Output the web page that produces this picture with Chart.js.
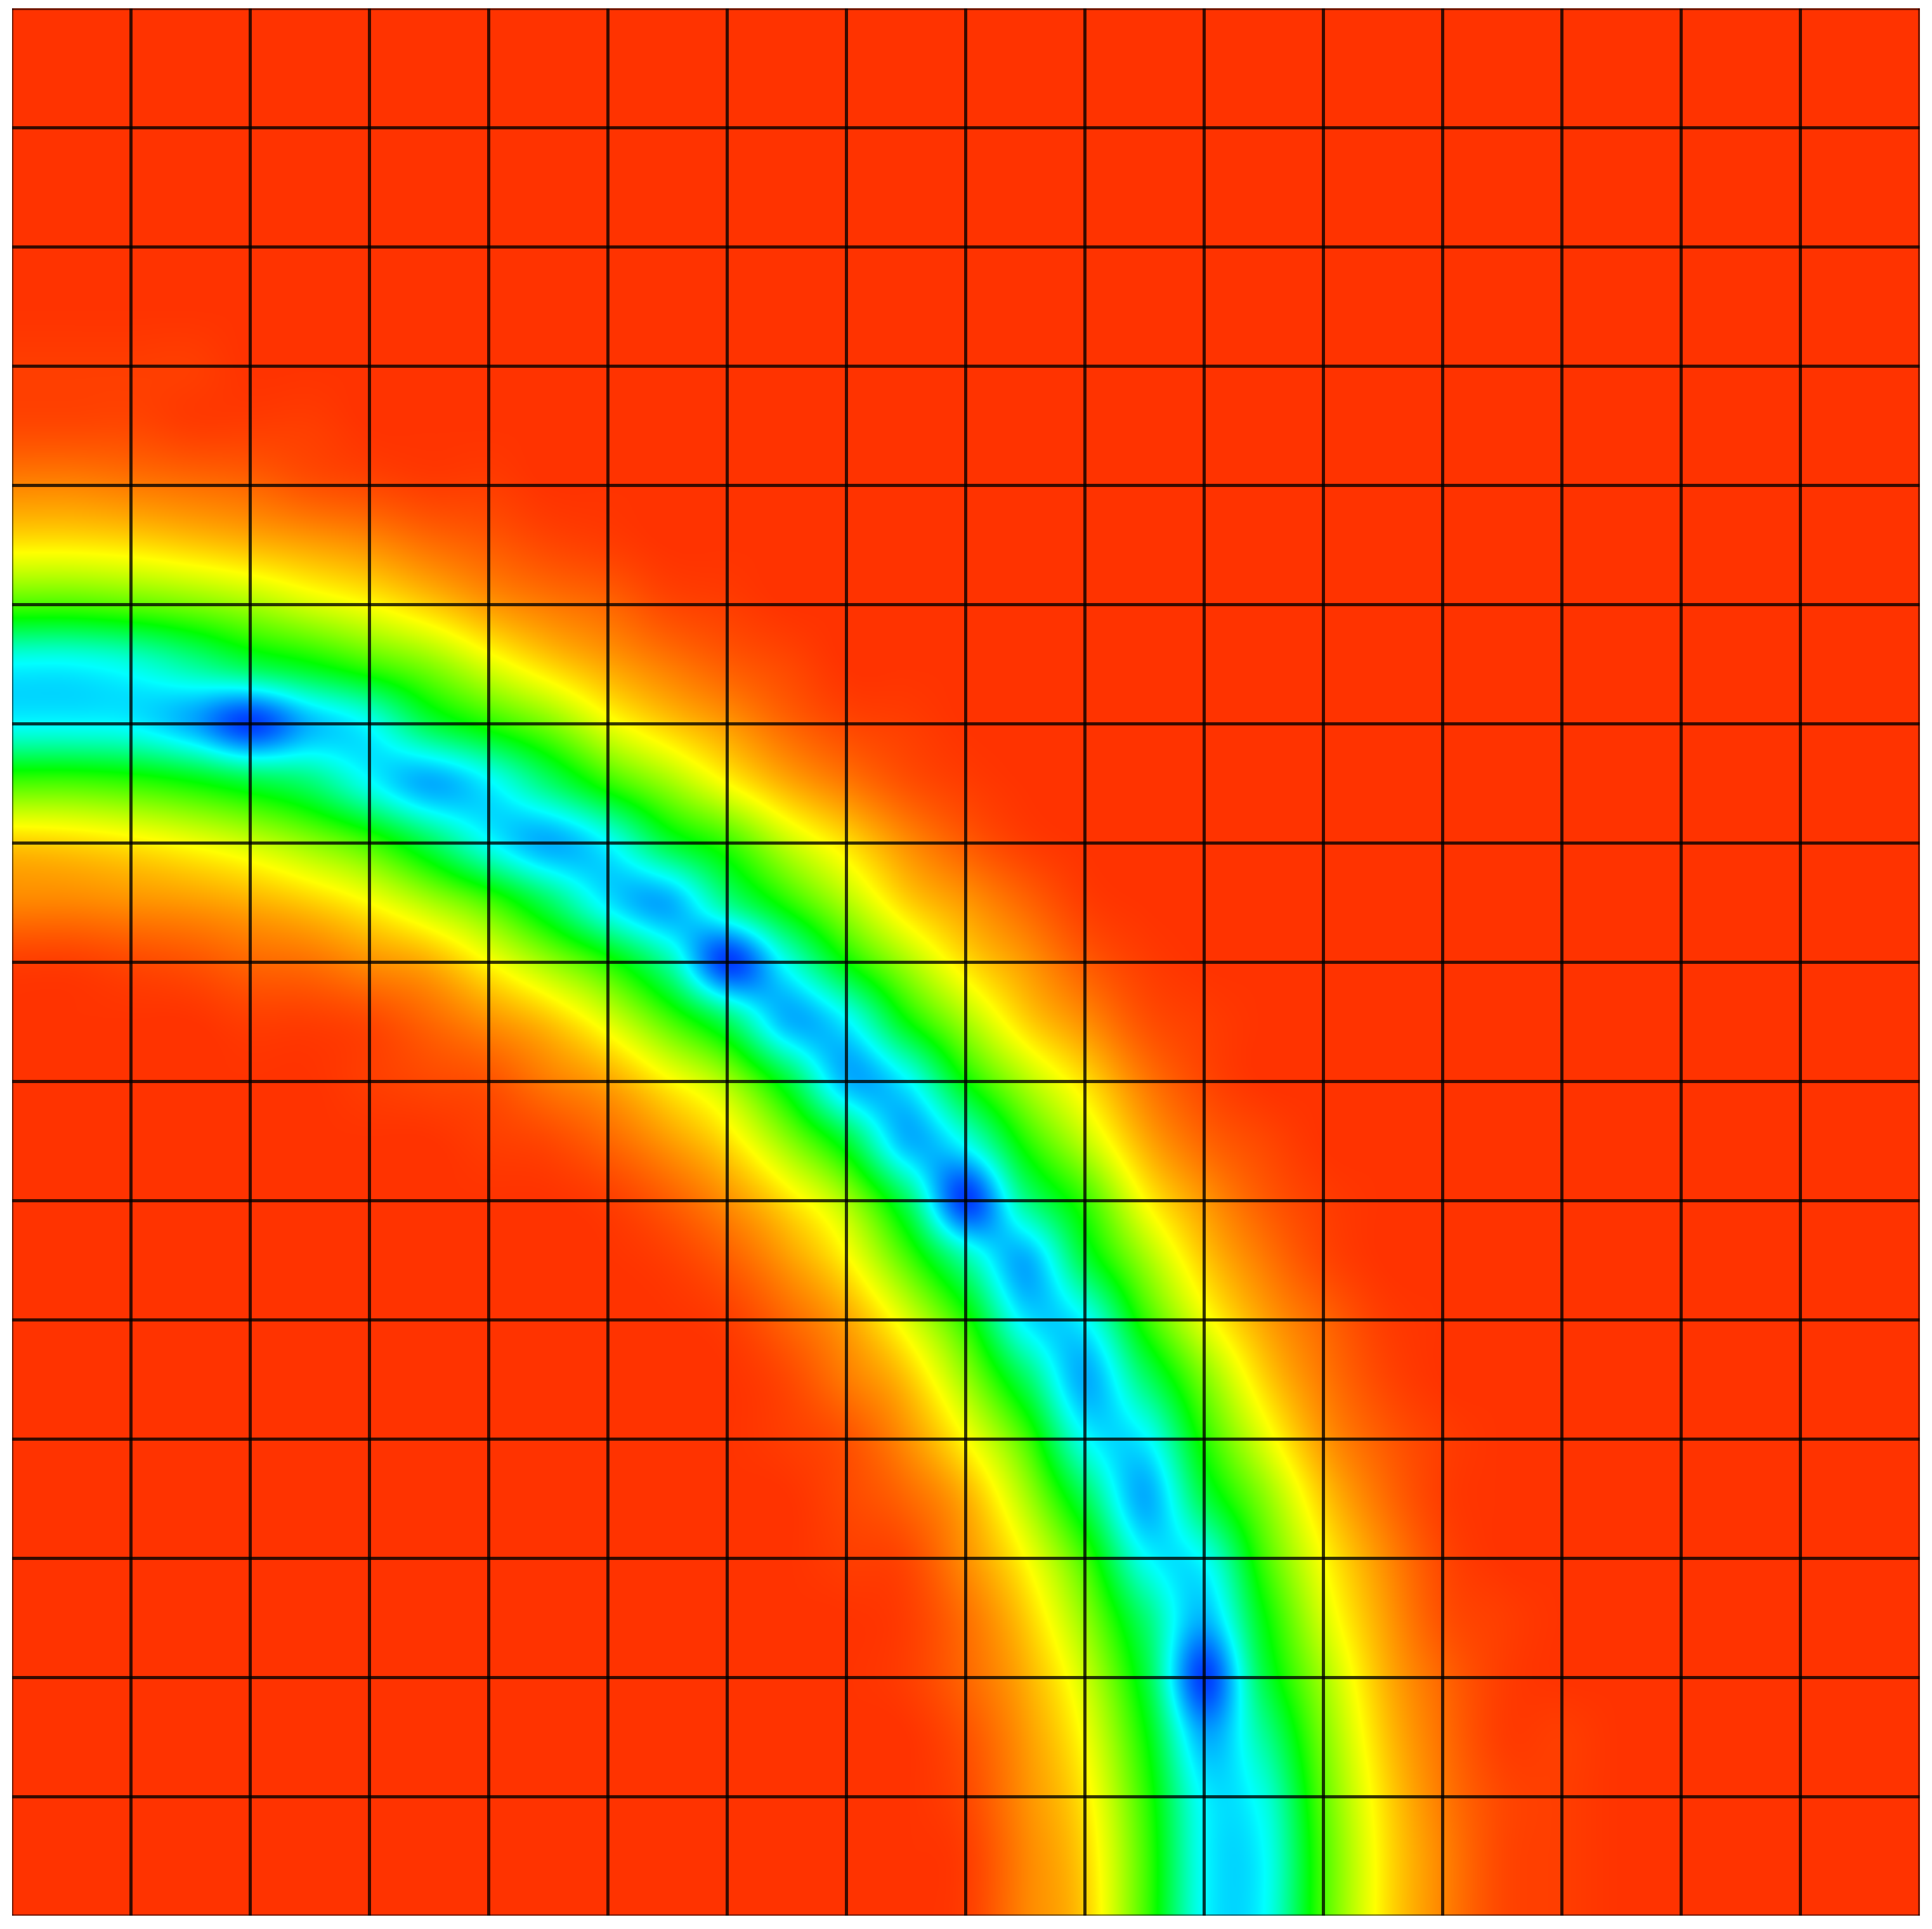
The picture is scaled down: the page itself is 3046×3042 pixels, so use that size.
<!DOCTYPE html>
<html>
<head>
<meta charset="utf-8">
<style>
html,body{margin:0;padding:0;background:#fff;}
canvas{display:block;clip-path:inset(13px 19px 21px 19px);}
</style>
<script src="https://cdn.jsdelivr.net/npm/chart.js@4/dist/chart.umd.min.js"></script>
</head>
<body>
<canvas id="c" width="3046" height="3042"></canvas>
<script>
// Field values at half-cell mesh nodes, top row first.
const nodeSpacing = 0.5;
const gridTicks = [0,1,2,3,4,5,6,7,8,9,10,11,12,13,14,15,16];
const fieldRows = [
[95,95,95,95,95,95,95,95,95,95,95,95,95,95,95,95,95,95,95,95,95,95,95,95,95,95,95,95,95,95,95,95,95],
[95,95,95,95,95,95,95,95,95,95,95,95,95,95,95,95,95,95,95,95,95,95,95,95,95,95,95,95,95,95,95,95,95],
[95,95,95,95,95,95,95,95,95,95,95,95,95,95,95,95,95,95,95,95,95,95,95,95,95,95,95,95,95,95,95,95,95],
[95,95,95,95,95,95,95,95,95,95,95,95,95,95,95,95,95,95,95,95,95,95,95,95,95,95,95,95,95,95,95,95,95],
[95,95,95,95,95,95,95,95,95,95,95,95,95,95,95,95,95,95,95,95,95,95,95,95,95,95,95,95,95,95,95,95,95],
[95,95,95,95,95,95,95,95,95,95,95,95,95,95,95,95,95,95,95,95,95,95,95,95,95,95,95,95,95,95,95,95,95],
[94,94,94,94,95,95,95,95,95,95,95,95,95,95,95,95,95,95,95,95,95,95,95,95,95,95,95,95,95,95,95,95,95],
[93,93,93,94,94,94,95,95,95,95,95,95,95,95,95,95,95,95,95,95,95,95,95,95,95,95,95,95,95,95,95,95,95],
[87,87,88,89,90,92,93,94,94,95,95,95,95,95,95,95,95,95,95,95,95,95,95,95,95,95,95,95,95,95,95,95,95],
[77,77,78,80,82,84,86,89,91,93,94,95,95,95,95,95,95,95,95,95,95,95,95,95,95,95,95,95,95,95,95,95,95],
[57,57,59,62,66,71,75,80,85,88,90,93,94,95,95,95,95,95,95,95,95,95,95,95,95,95,95,95,95,95,95,95,95],
[25,25,28,35,43,49,56,63,72,79,84,88,91,93,95,95,95,95,95,95,95,95,95,95,95,95,95,95,95,95,95,95,95],
[25,25,24,17,6,18,26,43,53,62,73,80,85,90,93,94,95,95,95,95,95,95,95,95,95,95,95,95,95,95,95,95,95],
[57,57,55,51,45,39,26,17,24,39,54,65,75,83,88,92,94,95,95,95,95,95,95,95,95,95,95,95,95,95,95,95,95],
[80,79,77,74,70,64,56,42,26,17,25,44,55,69,78,86,91,94,95,95,95,95,95,95,95,95,95,95,95,95,95,95,95],
[87,87,86,85,83,80,75,67,57,41,23,17,36,53,67,79,85,90,94,95,95,95,95,95,95,95,95,95,95,95,95,95,95],
[94,94,93,92,90,89,86,83,75,65,53,34,6,27,50,66,78,85,91,94,95,95,95,95,95,95,95,95,95,95,95,95,95],
[95,95,95,95,94,94,93,90,86,81,72,58,41,18,24,49,66,79,86,92,94,95,95,95,95,95,95,95,95,95,95,95,95],
[95,95,95,95,95,95,94,93,92,88,84,76,66,45,18,24,50,67,78,88,93,95,95,95,95,95,95,95,95,95,95,95,95],
[95,95,95,95,95,95,95,95,94,93,90,85,78,64,45,18,27,53,69,83,90,93,95,95,95,95,95,95,95,95,95,95,95],
[95,95,95,95,95,95,95,95,95,95,94,91,86,78,66,41,6,36,55,75,85,91,94,95,95,95,95,95,95,95,95,95,95],
[95,95,95,95,95,95,95,95,95,95,95,94,91,85,76,58,34,17,44,65,80,88,93,95,95,95,95,95,95,95,95,95,95],
[95,95,95,95,95,95,95,95,95,95,95,95,94,90,84,72,53,23,25,54,73,84,90,94,95,95,95,95,95,95,95,95,95],
[95,95,95,95,95,95,95,95,95,95,95,95,95,93,88,81,65,41,17,39,62,79,88,93,95,95,95,95,95,95,95,95,95],
[95,95,95,95,95,95,95,95,95,95,95,95,95,94,92,86,75,57,26,24,53,72,85,91,94,95,95,95,95,95,95,95,95],
[95,95,95,95,95,95,95,95,95,95,95,95,95,95,93,90,83,67,42,17,43,63,80,89,94,95,95,95,95,95,95,95,95],
[95,95,95,95,95,95,95,95,95,95,95,95,95,95,94,93,86,75,56,26,26,56,75,86,93,95,95,95,95,95,95,95,95],
[95,95,95,95,95,95,95,95,95,95,95,95,95,95,95,94,89,80,64,39,18,49,71,84,92,94,95,95,95,95,95,95,95],
[95,95,95,95,95,95,95,95,95,95,95,95,95,95,95,94,90,83,70,45,6,43,66,82,90,94,95,95,95,95,95,95,95],
[95,95,95,95,95,95,95,95,95,95,95,95,95,95,95,95,92,85,74,51,17,35,62,80,89,94,94,95,95,95,95,95,95],
[95,95,95,95,95,95,95,95,95,95,95,95,95,95,95,95,93,86,77,55,24,28,59,78,88,93,94,95,95,95,95,95,95],
[95,95,95,95,95,95,95,95,95,95,95,95,95,95,95,95,94,87,79,57,25,25,57,77,87,93,94,95,95,95,95,95,95],
[95,95,95,95,95,95,95,95,95,95,95,95,95,95,95,95,94,87,80,57,25,25,57,77,87,93,94,95,95,95,95,95,95]
];
// Rainbow colour scale used by the field (scalar position -> rgb).
const colourStops = [0,25,50,75,100];
const colourReds = [0,0,0,255,255];
const colourGreens = [0,255,255,255,0];
const colourBlues = [255,255,0,0,0];
const colourTopLimit = 95;

const nodeCount = fieldRows.length - 1;
const topValue = nodeCount * nodeSpacing;
const nodes = [];
fieldRows.forEach((row, k) => row.forEach((v, i) => nodes.push({x: i * nodeSpacing, y: topValue - k * nodeSpacing, v})));

function colourFor(v) {
  let s = 0;
  while (s < colourStops.length - 2 && v > colourStops[s + 1]) s++;
  const t = (v - colourStops[s]) / (colourStops[s + 1] - colourStops[s]);
  return [
    colourReds[s] + (colourReds[s + 1] - colourReds[s]) * t,
    colourGreens[s] + (colourGreens[s + 1] - colourGreens[s]) * t,
    colourBlues[s] + (colourBlues[s + 1] - colourBlues[s]) * t
  ];
}
// Shading weights across a mesh cell (smooth, through the four nearest nodes in a line).
function shadeWeights(pos) {
  const p = Math.min(nodeCount - 1e-4, Math.max(0, pos));
  const i = Math.floor(p), t = p - i, t2 = t * t, t3 = t2 * t;
  return {
    idx: [Math.max(0, i - 1), i, i + 1, Math.min(nodeCount, i + 2)],
    w: [(-t3 + 2 * t2 - t) / 2, (3 * t3 - 5 * t2 + 2) / 2, (-3 * t3 + 4 * t2 + t) / 2, (t3 - t2) / 2]
  };
}

// Paints the mesh: every node sits at its place on the chart's scales,
// and each mesh cell is shaded across its neighbouring nodes.
const fieldShader = {
  id: 'fieldShader',
  beforeDatasetsDraw(chart) {
    const {ctx, chartArea: a, scales: {x: sx, y: sy}} = chart;
    const x0 = Math.floor(a.left), y0 = Math.floor(a.top);
    const w = Math.ceil(a.right) - x0, h = Math.ceil(a.bottom) - y0;
    const img = ctx.createImageData(w, h);
    const d = img.data;
    const cols = [];
    for (let px = 0; px < w; px++) cols.push(shadeWeights(sx.getValueForPixel(x0 + px + 0.5) / nodeSpacing));
    let o = 0;
    for (let py = 0; py < h; py++) {
      const rw = shadeWeights((topValue - sy.getValueForPixel(y0 + py + 0.5)) / nodeSpacing);
      const R = rw.idx.map(k => fieldRows[k]);
      for (let px = 0; px < w; px++) {
        const cw = cols[px], ci = cw.idx, wc = cw.w, wr = rw.w;
        let v = 0;
        for (let m = 0; m < 4; m++) {
          const r = R[m];
          v += wr[m] * (wc[0] * r[ci[0]] + wc[1] * r[ci[1]] + wc[2] * r[ci[2]] + wc[3] * r[ci[3]]);
        }
        v = Math.max(0, Math.min(colourTopLimit, v));
        const c = colourFor(v);
        d[o++] = c[0]; d[o++] = c[1]; d[o++] = c[2]; d[o++] = 255;
      }
    }
    ctx.putImageData(img, x0, y0);
  }
};

function gridColour(ctx) {
  const t = ctx.tick && ctx.tick.value;
  return (t === gridTicks[0] || t === gridTicks[gridTicks.length - 1]) ? 'rgba(0,0,0,0.55)' : 'rgba(0,0,0,0.78)';
}
const axisOptions = {
  type: 'linear',
  min: gridTicks[0],
  max: gridTicks[gridTicks.length - 1],
  afterBuildTicks(scale) { scale.ticks = gridTicks.map(value => ({value})); },
  ticks: {display: false},
  border: {display: false},
  grid: {color: gridColour, lineWidth: 5, drawTicks: false, z: 1}
};

new Chart(document.getElementById('c'), {
  type: 'scatter',
  data: {datasets: [{label: 'field', data: nodes, pointRadius: 0, pointHoverRadius: 0, showLine: false}]},
  options: {
    responsive: false,
    animation: false,
    events: [],
    layout: {padding: {left: 18.5, top: 13.5, right: 19.5, bottom: 20.5}},
    plugins: {legend: {display: false}, tooltip: {enabled: false}, title: {display: false}},
    scales: {x: axisOptions, y: axisOptions}
  },
  plugins: [fieldShader]
});
</script>
</body>
</html>
